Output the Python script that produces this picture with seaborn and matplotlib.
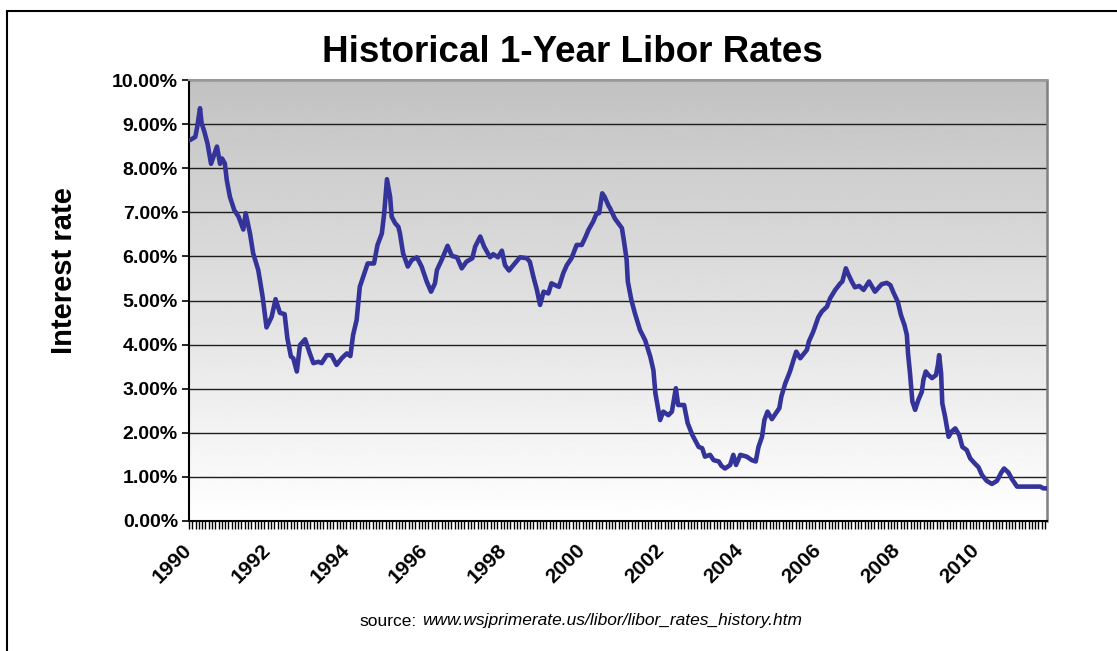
import numpy as np
import matplotlib
matplotlib.use('Agg')
import matplotlib.pyplot as plt
from matplotlib.patches import Rectangle
from matplotlib.ticker import FuncFormatter, FixedLocator
import seaborn as sns

# 1-year Libor rate (%)
years = [
    1990.03, 1990.16, 1990.21, 1990.28, 1990.32, 1990.39, 1990.47, 1990.56, 1990.71, 1990.79,
    1990.84, 1990.91, 1990.96, 1991.04, 1991.15, 1991.26, 1991.38, 1991.44, 1991.55, 1991.63,
    1991.76, 1991.87, 1991.97, 1992.10, 1992.20, 1992.31, 1992.43, 1992.50, 1992.59, 1992.65,
    1992.74, 1992.82, 1992.95, 1993.07, 1993.16, 1993.29, 1993.37, 1993.50, 1993.62, 1993.75,
    1993.88, 1994.01, 1994.10, 1994.17, 1994.26, 1994.34, 1994.47, 1994.54, 1994.70, 1994.79,
    1994.90, 1994.96, 1995.03, 1995.11, 1995.15, 1995.24, 1995.32, 1995.36, 1995.44, 1995.56,
    1995.66, 1995.79, 1995.91, 1996.04, 1996.15, 1996.25, 1996.30, 1996.42, 1996.57, 1996.68,
    1996.81, 1996.93, 1997.05, 1997.20, 1997.27, 1997.40, 1997.50, 1997.65, 1997.73, 1997.85,
    1997.95, 1998.03, 1998.13, 1998.24, 1998.41, 1998.58, 1998.66, 1998.75, 1998.84, 1998.92,
    1999.01, 1999.13, 1999.21, 1999.30, 1999.40, 1999.51, 1999.60, 1999.72, 1999.85, 1999.98,
    2000.08, 2000.15, 2000.27, 2000.36, 2000.42, 2000.50, 2000.56, 2000.66, 2000.70, 2000.82,
    2001.00, 2001.06, 2001.12, 2001.15, 2001.24, 2001.33, 2001.46, 2001.59, 2001.72, 2001.80,
    2001.85, 2001.91, 2001.97, 2002.05, 2002.18, 2002.27, 2002.37, 2002.43, 2002.58, 2002.67,
    2002.79, 2002.95, 2003.04, 2003.11, 2003.24, 2003.33, 2003.46, 2003.53, 2003.62, 2003.75,
    2003.83, 2003.90, 2004.01, 2004.17, 2004.30, 2004.40, 2004.47, 2004.56, 2004.62, 2004.70,
    2004.81, 2004.91, 2005.00, 2005.05, 2005.15, 2005.27, 2005.36, 2005.43, 2005.53, 2005.70,
    2005.75, 2005.86, 2005.99, 2006.08, 2006.21, 2006.29, 2006.42, 2006.55, 2006.60, 2006.69,
    2006.76, 2006.84, 2006.92, 2007.03, 2007.14, 2007.28, 2007.43, 2007.60, 2007.73, 2007.82,
    2007.90, 2008.01, 2008.09, 2008.18, 2008.24, 2008.27, 2008.32, 2008.38, 2008.45, 2008.53,
    2008.62, 2008.66, 2008.72, 2008.79, 2008.88, 2008.98, 2009.03, 2009.06, 2009.11, 2009.14,
    2009.21, 2009.30, 2009.38, 2009.47, 2009.57, 2009.65, 2009.76, 2009.85, 2009.96, 2010.06,
    2010.15, 2010.27, 2010.40, 2010.53, 2010.64, 2010.71, 2010.82, 2010.91, 2011.04, 2011.25,
    2011.50, 2011.63, 2011.71, 2011.80,
]
rates = [
    8.64, 8.71, 8.94, 9.36, 9.02, 8.83, 8.56, 8.10, 8.49, 8.10,
    8.22, 8.11, 7.73, 7.35, 7.05, 6.90, 6.61, 6.98, 6.52, 6.07,
    5.69, 5.09, 4.39, 4.63, 5.03, 4.72, 4.69, 4.14, 3.73, 3.69,
    3.39, 3.99, 4.12, 3.80, 3.58, 3.61, 3.58, 3.76, 3.76, 3.54,
    3.69, 3.80, 3.74, 4.22, 4.56, 5.31, 5.65, 5.84, 5.84, 6.26,
    6.52, 6.98, 7.75, 7.35, 6.90, 6.75, 6.67, 6.52, 6.07, 5.77,
    5.92, 5.98, 5.77, 5.43, 5.20, 5.39, 5.69, 5.92, 6.24, 6.01,
    5.98, 5.73, 5.88, 5.96, 6.22, 6.45, 6.22, 5.98, 6.05, 5.98,
    6.13, 5.80, 5.68, 5.80, 5.98, 5.96, 5.88, 5.54, 5.24, 4.90,
    5.20, 5.16, 5.39, 5.35, 5.31, 5.62, 5.80, 5.96, 6.26, 6.26,
    6.45, 6.60, 6.79, 6.98, 6.98, 7.43, 7.35, 7.15, 7.09, 6.86,
    6.64, 6.30, 5.92, 5.43, 5.01, 4.71, 4.33, 4.10, 3.73, 3.42,
    2.90, 2.59, 2.29, 2.48, 2.40, 2.48, 3.01, 2.63, 2.63, 2.22,
    1.95, 1.68, 1.65, 1.46, 1.50, 1.38, 1.35, 1.25, 1.19, 1.27,
    1.50, 1.27, 1.50, 1.46, 1.38, 1.35, 1.68, 1.91, 2.29, 2.48,
    2.31, 2.44, 2.56, 2.82, 3.12, 3.39, 3.65, 3.84, 3.69, 3.88,
    4.07, 4.29, 4.62, 4.75, 4.86, 5.05, 5.24, 5.39, 5.43, 5.73,
    5.58, 5.43, 5.30, 5.33, 5.24, 5.43, 5.20, 5.37, 5.40, 5.35,
    5.18, 4.97, 4.67, 4.44, 4.22, 3.80, 3.35, 2.71, 2.52, 2.74,
    2.93, 3.20, 3.39, 3.31, 3.24, 3.31, 3.54, 3.76, 3.35, 2.67,
    2.37, 1.91, 2.03, 2.10, 1.95, 1.68, 1.61, 1.42, 1.31, 1.22,
    1.04, 0.91, 0.84, 0.91, 1.10, 1.19, 1.10, 0.95, 0.78, 0.78,
    0.78, 0.78, 0.74, 0.74,
]
label_years = list(range(1990, 2011, 2))
x_start, x_end = 1990, 2011.8

sns.set_style('white')
plt.rcParams['font.family'] = ['Liberation Sans', 'DejaVu Sans']
plt.rcParams['text.color'] = 'black'
plt.rcParams['xtick.color'] = 'black'
plt.rcParams['ytick.color'] = 'black'

fig = plt.figure(figsize=(11.17, 6.51), dpi=100)
ax = fig.add_axes([0.1692, 0.1997, 0.7681, 0.6774])

# grey-to-white gradient plot area
grad = np.linspace(0.76, 1.0, 256).reshape(-1, 1)
ax.imshow(grad, cmap='gray', vmin=0, vmax=1, aspect='auto', origin='upper',
          extent=[x_start, x_end, 0, 10], zorder=0)

sns.lineplot(x=years, y=rates, ax=ax, color='#333399', lw=3.3, zorder=3,
             solid_joinstyle='round', solid_capstyle='round')

ax.set_xlim(x_start, x_end)
ax.set_ylim(0, 10)
ax.set_axisbelow(True)
ax.set_yticks(np.arange(0, 11, 1))
ax.yaxis.set_major_formatter(FuncFormatter(lambda v, p: f'{v:.2f}%'))
ax.yaxis.grid(True, color='#1e1e1e', lw=1)
ax.xaxis.grid(False)

ax.set_xticks(label_years)
ax.set_xticklabels([str(y) for y in label_years])
ax.xaxis.set_minor_locator(FixedLocator(np.arange(x_start, x_end + 0.01, 1 / 12)))
ax.tick_params(axis='x', which='both', direction='out', length=6, width=1, color='black',
               bottom=True)
ax.tick_params(axis='x', which='major', pad=13, labelsize=15, labelcolor='black')
ax.tick_params(axis='y', direction='out', length=5, width=1.2, color='black', left=True,
               labelsize=14, pad=3, labelcolor='black')
for lbl in ax.get_xticklabels():
    lbl.set_fontweight('bold')
    lbl.set_rotation(45)
    lbl.set_ha('right')
    lbl.set_va('center')
    lbl.set_rotation_mode('anchor')
for lbl in ax.get_yticklabels():
    lbl.set_fontweight('bold')

for side in ['left', 'bottom']:
    ax.spines[side].set_color('black')
    ax.spines[side].set_linewidth(1.5)
ax.spines['top'].set_color('#999999')
ax.spines['right'].set_color('#808080')
ax.spines['top'].set_linewidth(1.5)
ax.spines['right'].set_linewidth(1.8)
ax.set_xlabel('')
ax.set_ylabel('')

fig.text(0.512, 0.919, 'Historical 1-Year Libor Rates', ha='center', va='center',
         fontsize=26.5, fontweight='bold', color='black')
fig.text(64 / 1117, 1 - 271 / 651, 'Interest rate', rotation=90, ha='center', va='center',
         fontsize=21, fontweight='bold', color='black')
fig.text(417 / 1117, 1 - 621 / 651, 'source:', ha='right', va='center', fontsize=12.5,
         color='black')
fig.text(422 / 1117, 1 - 621 / 651, 'www.wsjprimerate.us/libor/libor_rates_history.htm',
         ha='left', va='center', fontsize=12.5, style='italic', color='black')

# outer chart border (cropped at right and bottom)
fig.patches.append(Rectangle((7 / 1117, -0.1), 1.2, 0.1 + 1 - 11 / 651, transform=fig.transFigure,
                             fill=False, ec='black', lw=1.5))

fig.savefig('out.png', dpi=100)
